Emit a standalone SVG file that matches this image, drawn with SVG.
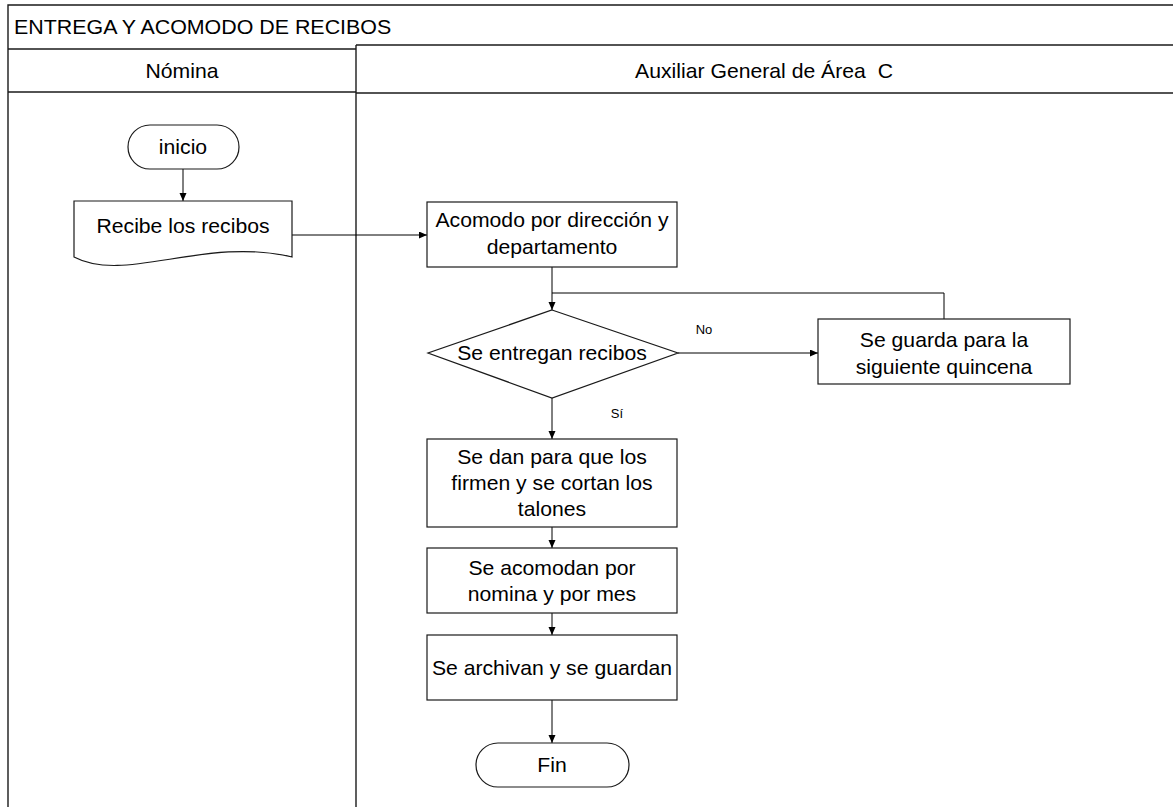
<svg xmlns="http://www.w3.org/2000/svg" width="1173" height="807" viewBox="0 0 1173 807">
  <style>
    .frame { fill: none; stroke: #1a1a1a; stroke-width: 1.4; }
    .shape { fill: #ffffff; stroke: #1a1a1a; stroke-width: 1.2; }
    .link { fill: none; stroke: #000000; stroke-width: 1; }
    .t { font-family: "Liberation Sans", Arial, sans-serif; font-size: 20px; fill: #000000; text-anchor: middle; }
    .ts { font-family: "Liberation Sans", Arial, sans-serif; font-size: 13px; fill: #000000; text-anchor: middle; }
  </style>
  <defs>
    <marker id="arrow" markerWidth="9" markerHeight="8" refX="8" refY="3.5" orient="auto" markerUnits="userSpaceOnUse">
      <path d="M0,0 L8,3.5 L0,7 z" fill="#000000"/>
    </marker>
  </defs>

  <rect width="1173" height="807" fill="#ffffff"/>

  <!-- swimlane frame -->
  <g id="pool">
    <path class="frame" d="M8,807 V5 H1173"/>
    <path class="frame" d="M8,49 H356"/>
    <path class="frame" d="M8,92 H356"/>
    <path class="frame" d="M356,45 H1173"/>
    <path class="frame" d="M356,93 H1173"/>
    <path class="frame" d="M356,45 V807"/>
    <text class="t" transform="translate(14,34) scale(1.07,1)" style="text-anchor:start">ENTREGA Y ACOMODO DE RECIBOS</text>
    <text class="t" transform="translate(182,78) scale(1.06,1)">Nómina</text>
    <text class="t" transform="translate(764,78) scale(1.06,1)" xml:space="preserve">Auxiliar General de Área  C</text>
  </g>

  <!-- connectors -->
  <g id="connectors">
    <path class="link" d="M183,169 V201" marker-end="url(#arrow)"/>
    <path class="link" d="M292,235 H427" marker-end="url(#arrow)"/>
    <path class="link" d="M552,267 V310" marker-end="url(#arrow)"/>
    <path class="link" d="M944,319 V293 H552"/>
    <path class="link" d="M678,353 H818" marker-end="url(#arrow)"/>
    <path class="link" d="M552,398 V439" marker-end="url(#arrow)"/>
    <path class="link" d="M552,527 V548" marker-end="url(#arrow)"/>
    <path class="link" d="M552,613 V635" marker-end="url(#arrow)"/>
    <path class="link" d="M552,700 V743" marker-end="url(#arrow)"/>
    <text class="ts" x="704" y="334">No</text>
    <text class="ts" x="617" y="418">Sí</text>
  </g>

  <g id="inicio">
    <rect class="shape" x="128" y="125" width="111" height="44" rx="22"/>
    <text class="t" transform="translate(183,154) scale(1.06,1)">inicio</text>
  </g>

  <g id="recibe">
    <path class="shape" d="M74,201 H292 V257 C205,236 125,284 74,257 Z"/>
    <text class="t" transform="translate(183,233) scale(1.06,1)">Recibe los recibos</text>
  </g>

  <g id="acomodo">
    <rect class="shape" x="427" y="202" width="250" height="65"/>
    <text class="t" transform="translate(552,227) scale(1.06,1)">Acomodo por dirección y</text>
    <text class="t" transform="translate(552,254) scale(1.06,1)">departamento</text>
  </g>

  <g id="decision">
    <polygon class="shape" points="552,310 678,353 552,398 428,353"/>
    <text class="t" transform="translate(552,360) scale(1.06,1)">Se entregan recibos</text>
  </g>

  <g id="guarda">
    <rect class="shape" x="818" y="319" width="252" height="65"/>
    <text class="t" transform="translate(944,347) scale(1.06,1)">Se guarda para la</text>
    <text class="t" transform="translate(944,374) scale(1.06,1)">siguiente quincena</text>
  </g>

  <g id="firman">
    <rect class="shape" x="427" y="439" width="250" height="88"/>
    <text class="t" transform="translate(552,464) scale(1.06,1)">Se dan para que los</text>
    <text class="t" transform="translate(552,490) scale(1.06,1)">firmen y se cortan los</text>
    <text class="t" transform="translate(552,516) scale(1.06,1)">talones</text>
  </g>

  <g id="acomodan">
    <rect class="shape" x="427" y="548" width="250" height="65"/>
    <text class="t" transform="translate(552,575) scale(1.06,1)">Se acomodan por</text>
    <text class="t" transform="translate(552,601) scale(1.06,1)">nomina y por mes</text>
  </g>

  <g id="archivan">
    <rect class="shape" x="427" y="635" width="250" height="65"/>
    <text class="t" transform="translate(552,675) scale(1.06,1)">Se archivan y se guardan</text>
  </g>

  <g id="fin">
    <rect class="shape" x="476" y="743" width="153" height="44" rx="22"/>
    <text class="t" transform="translate(552,772) scale(1.06,1)">Fin</text>
  </g>
</svg>
